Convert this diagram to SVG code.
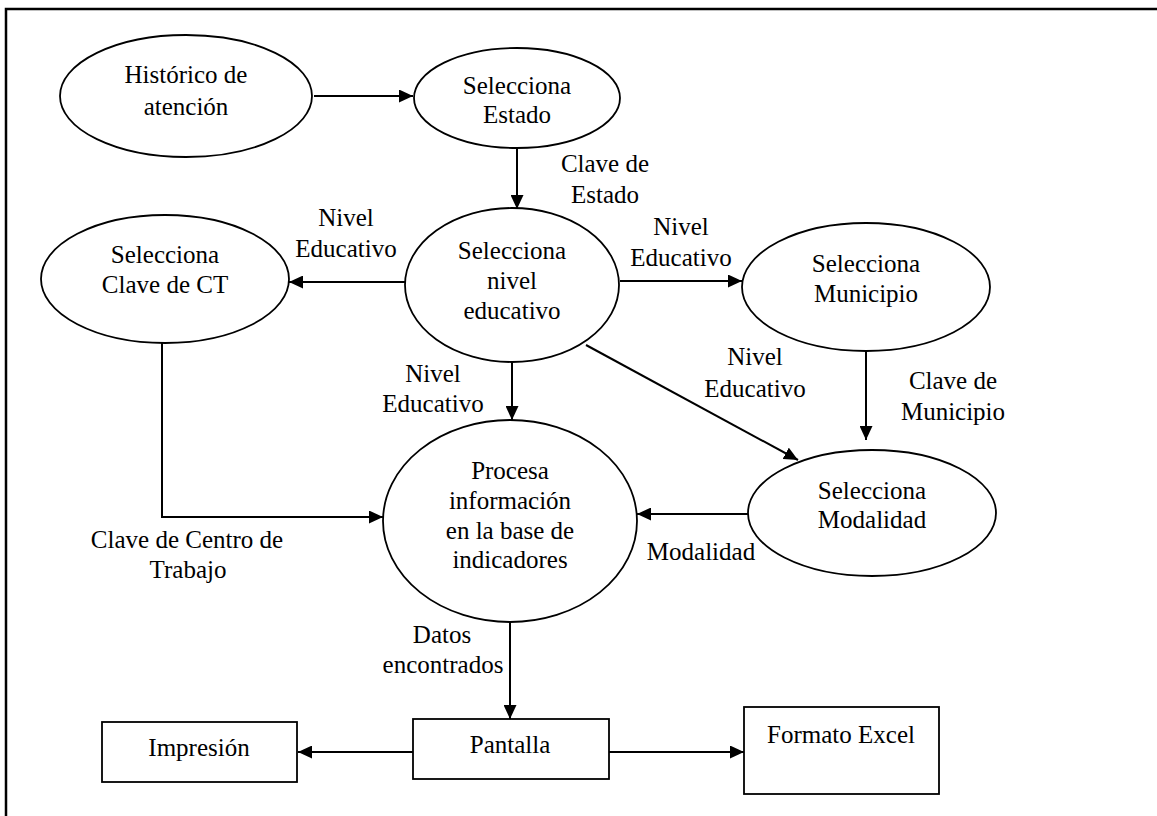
<svg xmlns="http://www.w3.org/2000/svg" width="1157" height="816" viewBox="0 0 1157 816">
<style>
.n{fill:#fff;stroke:#000;stroke-width:1.8}
.c{fill:none;stroke:#000;stroke-width:2}
</style>
<defs>
<marker id="ah" markerUnits="userSpaceOnUse" markerWidth="15" markerHeight="13" refX="14" refY="6.5" orient="auto">
<path d="M0,0 L14,6.5 L0,13 z" fill="#000"/>
</marker>
</defs>
<rect width="1157" height="816" fill="#fff"/>
<path d="M6,816 V9 H1157" fill="none" stroke="#000" stroke-width="2.5"/>
<g font-family="Liberation Serif" font-size="25" fill="#000" text-anchor="middle">
<g id="connectors">
<path class="c" d="M314,96 H413" marker-end="url(#ah)"/>
<path class="c" d="M517,148 V209" marker-end="url(#ah)"/>
<path class="c" d="M405,282 H289" marker-end="url(#ah)"/>
<path class="c" d="M620,281 H742" marker-end="url(#ah)"/>
<path class="c" d="M866,352 V440" marker-end="url(#ah)"/>
<path class="c" d="M586,345 L798,460" marker-end="url(#ah)"/>
<path class="c" d="M512,363 V420" marker-end="url(#ah)"/>
<path class="c" d="M749,514 H637" marker-end="url(#ah)"/>
<path class="c" d="M162,343 V517 H383" marker-end="url(#ah)"/>
<path class="c" d="M510,622 V719" marker-end="url(#ah)"/>
<path class="c" d="M413,752 H298" marker-end="url(#ah)"/>
<path class="c" d="M609,752 H744" marker-end="url(#ah)"/>
<text x="605" y="172">Clave de</text>
<text x="605" y="203">Estado</text>
<text x="346" y="226">Nivel</text>
<text x="346" y="257">Educativo</text>
<text x="681" y="235">Nivel</text>
<text x="681" y="266">Educativo</text>
<text x="755" y="365">Nivel</text>
<text x="755" y="397">Educativo</text>
<text x="953" y="389">Clave de</text>
<text x="953" y="420">Municipio</text>
<text x="433" y="382">Nivel</text>
<text x="433" y="412">Educativo</text>
<text x="701" y="560">Modalidad</text>
<text x="187" y="548">Clave de Centro de</text>
<text x="188" y="578">Trabajo</text>
<text x="442" y="643">Datos</text>
<text x="443" y="673">encontrados</text>
</g>
<g id="historico">
<ellipse class="n" cx="186" cy="96" rx="126" ry="61"/>
<text x="186" y="83">Histórico de</text>
<text x="186" y="115">atención</text>
</g>
<g id="estado">
<ellipse class="n" cx="517" cy="98" rx="103" ry="50"/>
<text x="517" y="94">Selecciona</text>
<text x="517" y="123">Estado</text>
</g>
<g id="nivel">
<ellipse class="n" cx="512" cy="285" rx="107" ry="77"/>
<text x="512" y="259">Selecciona</text>
<text x="512" y="289">nivel</text>
<text x="512" y="319">educativo</text>
</g>
<g id="clavect">
<ellipse class="n" cx="165" cy="279" rx="124" ry="64"/>
<text x="165" y="263">Selecciona</text>
<text x="165" y="293">Clave de CT</text>
</g>
<g id="municipio">
<ellipse class="n" cx="866" cy="287" rx="124" ry="64"/>
<text x="866" y="272">Selecciona</text>
<text x="866" y="302">Municipio</text>
</g>
<g id="modalidad">
<ellipse class="n" cx="872" cy="513" rx="124" ry="63"/>
<text x="872" y="499">Selecciona</text>
<text x="872" y="528">Modalidad</text>
</g>
<g id="procesa">
<ellipse class="n" cx="510" cy="521" rx="127" ry="101"/>
<text x="510" y="479">Procesa</text>
<text x="510" y="509">información</text>
<text x="510" y="539">en la base de</text>
<text x="510" y="568">indicadores</text>
</g>
<g id="impresion">
<rect class="n" x="102" y="722" width="195" height="60"/>
<text x="199" y="756">Impresión</text>
</g>
<g id="pantalla">
<rect class="n" x="413" y="719" width="196" height="60"/>
<text x="510" y="753">Pantalla</text>
</g>
<g id="excel">
<rect class="n" x="744" y="707" width="195" height="87"/>
<text x="841" y="743">Formato Excel</text>
</g>
</g>
</svg>
